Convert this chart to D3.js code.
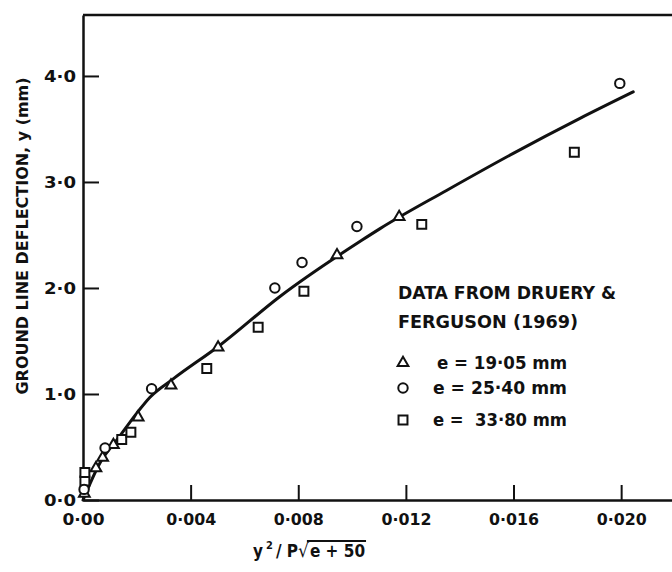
<!DOCTYPE html>
<html><head><meta charset="utf-8">
<script src="https://cdn.jsdelivr.net/npm/d3@7"></script>
<style>
body{margin:0;background:#fff}
text{font-family:"DejaVu Sans Condensed","Liberation Sans Narrow","DejaVu Sans",sans-serif;font-weight:bold;font-stretch:condensed;fill:#111}
</style>
</head><body><svg id="c" width="672" height="572"></svg>
<script>
// ---- data ----
const xTicks = [0, 0.004, 0.008, 0.012, 0.016, 0.020];
const xTickLabels = ["0·00", "0·004", "0·008", "0·012", "0·016", "0·020"];
const yTicks = [0, 1, 2, 3, 4];
const yTickLabels = ["0·0", "1·0", "2·0", "3·0", "4·0"];

// e = 19.05 mm (triangles)
const triX = [0.00005, 0.00048, 0.00073, 0.00113, 0.00205, 0.00327, 0.00502, 0.00944, 0.01175];
const triY = [0.06, 0.30, 0.40, 0.52, 0.78, 1.08, 1.44, 2.31, 2.67];
// e = 25.40 mm (circles)
const cirX = [0.00004, 0.00082, 0.00255, 0.00713, 0.00814, 0.01018, 0.01995];
const cirY = [0.10, 0.49, 1.05, 2.00, 2.24, 2.58, 3.93];
// e = 33.80 mm (squares)
const sqX = [0.00007, 0.00007, 0.00144, 0.00178, 0.00460, 0.00651, 0.00821, 0.01259, 0.01826];
const sqY = [0.18, 0.26, 0.57, 0.64, 1.24, 1.63, 1.97, 2.60, 3.28];
// fitted curve
const fitX = [0, 0.00063, 0.00133, 0.00200, 0.00249, 0.00334, 0.00509, 0.00732, 0.01036, 0.01104, 0.01351, 0.01599, 0.01847, 0.02045];
const fitY = [0, 0.35, 0.59, 0.82, 0.97, 1.14, 1.46, 1.92, 2.45, 2.56, 2.92, 3.27, 3.60, 3.85];

const legendTitle = ["DATA FROM DRUERY &", "FERGUSON (1969)"];
const legendLabels = ["e = 19·05 mm", "e = 25·40 mm", "e =  33·80 mm"];
const yTitle = "GROUND LINE DEFLECTION, y (mm)";

// ---- drawing ----
const svg = d3.select("#c");
const x = d3.scaleLinear().domain([0, 0.02189]).range([83, 672]);
const y = d3.scaleLinear().domain([0, 4.575]).range([500, 15]);

const zip = (a, b) => a.map((v, i) => [v, b[i]]);

// axes
const gx = svg.append("g").attr("transform", `translate(0,${y(0)})`)
  .call(d3.axisBottom(x).tickValues(xTicks).tickSizeInner(-15).tickSizeOuter(0).tickPadding(14)
    .tickFormat((d, i) => xTickLabels[i]));
gx.select(".domain").attr("stroke", "#111").attr("stroke-width", 2.5);
gx.selectAll(".tick line").attr("stroke", "#111").attr("stroke-width", 2);
gx.selectAll(".tick text").attr("font-size", 16).attr("fill", "#111")
  .attr("textLength", (d, i) => xTickLabels[i].length === 4 ? 42 : 50).attr("lengthAdjust", "spacingAndGlyphs");

const gy = svg.append("g").attr("transform", `translate(${x(0)},0)`)
  .call(d3.axisLeft(y).tickValues(yTicks).tickSizeInner(-16).tickSizeOuter(0).tickPadding(7)
    .tickFormat((d, i) => yTickLabels[i]));
gy.select(".domain").attr("stroke", "#111").attr("stroke-width", 2.5);
gy.selectAll(".tick line").attr("stroke", "#111").attr("stroke-width", 2);
gy.selectAll(".tick text").attr("font-size", 16).attr("fill", "#111")
  .attr("textLength", 32).attr("lengthAdjust", "spacingAndGlyphs");

// top frame line
svg.append("line").attr("x1", x(0)).attr("x2", 672).attr("y1", y.range()[1]).attr("y2", y.range()[1])
  .attr("stroke", "#111").attr("stroke-width", 2.5);

// fitted curve
svg.append("path").datum(zip(fitX, fitY))
  .attr("fill", "none").attr("stroke", "#111").attr("stroke-width", 3).attr("stroke-linecap", "round")
  .attr("d", d3.line().x(d => x(d[0])).y(d => y(d[1])).curve(d3.curveMonotoneX));

// markers
const symTri = d3.symbol().type(d3.symbolTriangle).size(50);
const symCir = d3.symbol().type(d3.symbolCircle).size(70);
const symSq = d3.symbol().type(d3.symbolSquare).size(80);
function markers(data, sym) {
  svg.append("g").selectAll("path").data(data).join("path")
    .attr("transform", d => `translate(${x(d[0])},${y(d[1])})`)
    .attr("d", sym).attr("fill", "#fff").attr("stroke", "#111").attr("stroke-width", 2);
}
markers(zip(sqX, sqY), symSq);
markers(zip(triX, triY), symTri);
markers(zip(cirX, cirY), symCir);

// y-axis title
svg.append("text").attr("transform", "translate(28,236) rotate(-90)")
  .attr("text-anchor", "middle").attr("font-size", 16)
  .attr("textLength", 317).attr("lengthAdjust", "spacingAndGlyphs").text(yTitle);

// x-axis title: y² / P √(e+50)
const t = svg.append("text").attr("x", 253).attr("y", 557).attr("font-size", 17);
t.append("tspan").text("y");
t.append("tspan").attr("dy", -8).attr("font-size", 11).attr("dx", 3).text("2");
t.append("tspan").attr("dy", 8).attr("dx", 3).text("/ P");
t.append("tspan").attr("font-weight", "normal").attr("font-size", 19).text("√");
t.append("tspan").attr("dx", 1).text("e + 50");
const tn = t.node();
const nChars = tn.getNumberOfChars();
const startRad = tn.getStartPositionOfChar(nChars - 6);
const endRad = tn.getEndPositionOfChar(nChars - 1);
svg.append("line").attr("x1", startRad.x - 3).attr("x2", endRad.x + 1)
  .attr("y1", 541).attr("y2", 541).attr("stroke", "#111").attr("stroke-width", 1.8);

// legend
svg.append("text").attr("x", 398).attr("y", 299).attr("font-size", 17)
  .attr("textLength", 218).attr("lengthAdjust", "spacingAndGlyphs").text(legendTitle[0]);
svg.append("text").attr("x", 398).attr("y", 328).attr("font-size", 17)
  .attr("textLength", 180).attr("lengthAdjust", "spacingAndGlyphs").text(legendTitle[1]);
const rowsY = [363, 388, 420];
const syms = [symTri, symCir, symSq];
const textX = [437, 433, 433];
rowsY.forEach((ry, i) => {
  svg.append("path").attr("transform", `translate(403,${ry})`).attr("d", syms[i])
    .attr("fill", "#fff").attr("stroke", "#111").attr("stroke-width", 2);
  svg.append("text").attr("x", textX[i]).attr("y", ry + 6).attr("font-size", 17)
    .attr("textLength", 567 - textX[i]).attr("lengthAdjust", "spacingAndGlyphs")
    .attr("xml:space", "preserve").style("white-space", "pre").text(legendLabels[i]);
});
</script>
</body></html>
